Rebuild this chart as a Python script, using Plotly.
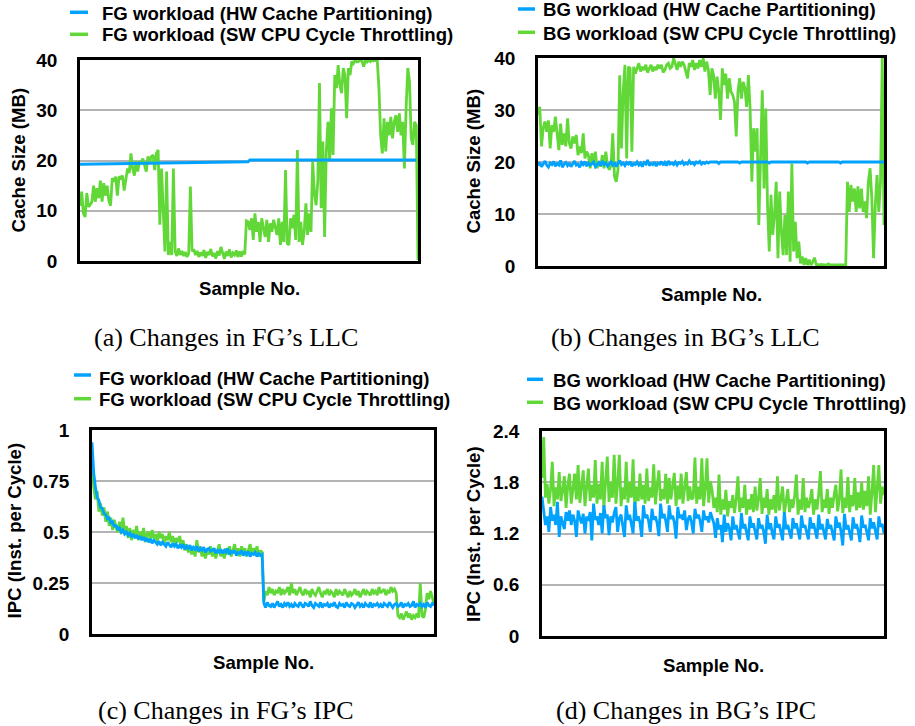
import plotly.graph_objects as go

# ---------------- data ----------------
y_ticks_llc = [0, 10, 20, 30, 40]
y_ticks_llc_text = ["0", "10", "20", "30", "40"]
y_ticks_fg_ipc = [0, 0.25, 0.5, 0.75, 1]
y_ticks_fg_ipc_text = ["0", "0.25", "0.5", "0.75", "1"]
y_ticks_bg_ipc = [0, 0.6, 1.2, 1.8, 2.4]
y_ticks_bg_ipc_text = ["0", "0.6", "1.2", "1.8", "2.4"]

# (a) FG LLC
fg_llc_hw_x = [0, 50, 99, 100, 198]
fg_llc_hw = [19.25, 19.5, 19.75, 20.1, 20.1]
fg_llc_sw = [
    11.0, 13.8, 9.5, 8.8, 13.5, 10.8, 11.2, 11.8, 15.0, 11.8,
    14.5, 12.5, 16.0, 11.8, 15.5, 13.0, 15.0, 12.0, 11.0, 16.5,
    15.8, 16.8, 13.0, 16.8, 16.5, 17.0, 14.0, 16.0, 18.4, 17.5,
    21.4, 18.4, 17.0, 19.8, 17.8, 19.8, 19.4, 20.4, 18.8, 17.8,
    20.8, 19.8, 20.8, 21.1, 18.1, 21.4, 22.1, 7.2, 18.4, 8.5,
    1.9, 17.8, 1.2, 3.8, 1.2, 18.4, 1.9, 1.0, 2.5, 1.2,
    2.0, 1.0, 1.8, 0.8, 1.5, 14.8, 1.9, 2.3, 1.2, 2.0,
    0.8, 1.7, 1.0, 2.2, 0.6, 1.8, 1.2, 2.4, 0.9, 1.6,
    0.5, 2.0, 1.1, 2.8, 1.3, 0.4, 1.9, 1.0, 2.3, 0.7,
    1.6, 1.2, 2.1, 0.8, 1.9, 0.9, 2.0, 1.3, 8.0, 7.8,
    6.2, 8.5, 4.2, 9.5, 5.8, 7.8, 3.8, 8.5, 6.5, 4.8,
    8.2, 3.8, 7.5, 5.8, 8.2, 6.8, 5.2, 8.5, 3.2, 7.8,
    3.8, 18.1, 3.5, 3.2, 8.5, 6.5, 9.2, 4.2, 22.1, 3.8,
    7.8, 3.2, 5.8, 11.5, 5.2, 9.5, 5.8, 19.8, 13.5, 11.1,
    15.8, 35.4, 10.5, 23.8, 4.8, 21.8, 27.7, 19.8, 30.4, 21.1,
    37.0, 34.4, 39.0, 35.0, 33.4, 38.4, 37.0, 28.4, 38.4, 37.0,
    39.7, 39.3, 40.0, 39.6, 39.7, 40.0, 39.8, 38.7, 39.9, 39.6,
    40.0, 39.7, 40.0, 39.8, 39.9, 40.0, 34.4, 25.0, 21.4, 28.4,
    21.8, 27.7, 25.0, 28.7, 24.4, 27.7, 29.0, 25.7, 29.4, 25.0,
    27.7, 18.4, 30.4, 38.4, 35.7, 24.4, 23.1, 27.7, 27.0, 0.2,
]

# (b) BG LLC
bg_llc_hw = [
    19.3, 19.9, 19.1, 19.7, 20.2, 19.4, 19.0, 19.8, 19.5, 20.1,
    19.2, 19.7, 19.4, 20.3, 19.0, 19.6, 19.9, 19.3, 19.8, 19.1,
    19.7, 20.2, 19.4, 19.6, 19.0, 19.9, 19.5, 20.1, 19.2, 19.8,
    19.4, 19.7, 20.0, 19.1, 19.6, 19.9, 19.3, 20.2, 19.5, 19.8,
    19.2, 19.7, 20.0, 19.4, 19.9, 19.1, 19.6, 20.3, 19.5, 19.8,
    19.3, 19.9, 19.6, 20.1, 19.2, 19.7, 19.5, 20.0, 19.4, 19.8,
    19.1, 19.9, 19.6, 20.4, 19.3, 19.7, 19.5, 20.0, 19.2, 19.8,
    19.6, 20.1, 19.4, 19.9, 19.3, 20.2, 19.6, 19.8, 19.5, 20.0,
    19.4, 19.9, 19.7, 20.1, 19.5, 19.8, 19.6, 20.2, 19.7, 19.9,
    19.5, 20.0, 19.8, 20.1, 19.6, 19.9, 19.7, 20.0, 19.8, 20.0,
    20.0, 20.0, 20.0, 20.0, 19.7, 20.0, 20.0, 20.0, 20.0, 20.0,
    20.0, 20.0, 20.0, 20.0, 20.0, 20.0, 19.8, 20.0, 20.0, 20.0,
    20.0, 20.0, 20.0, 20.0, 20.0, 20.0, 20.0, 20.0, 20.0, 20.0,
    20.0, 20.0, 20.0, 19.8, 20.0, 20.0, 20.0, 20.0, 20.0, 20.0,
    20.0, 20.0, 20.0, 20.0, 20.0, 20.0, 20.0, 20.0, 20.0, 20.0,
    20.0, 20.0, 20.0, 20.0, 20.0, 19.8, 20.0, 20.0, 20.0, 20.0,
    20.0, 20.0, 20.0, 20.0, 20.0, 20.0, 20.0, 20.0, 20.0, 20.0,
    20.0, 20.0, 20.0, 20.0, 19.8, 20.0, 20.0, 20.0, 20.0, 20.0,
    20.0, 20.0, 20.0, 20.0, 20.0, 20.0, 20.0, 20.0, 20.0, 20.0,
    20.0, 20.0, 20.0, 20.0, 20.0, 20.0, 20.0, 20.0, 20.0, 20.0,
]
bg_llc_sw = [
    29.0, 30.6, 23.0, 26.5, 27.8, 25.8, 28.0, 22.6, 27.1, 25.8,
    28.7, 24.9, 22.3, 27.4, 23.3, 25.5, 23.0, 28.4, 23.6, 22.6,
    24.9, 23.6, 25.2, 21.3, 23.0, 21.7, 25.5, 20.7, 22.0, 21.3,
    18.8, 21.7, 19.4, 22.0, 18.8, 20.1, 19.1, 21.3, 18.8, 22.0,
    19.4, 18.5, 19.4, 25.5, 17.2, 16.2, 18.5, 36.7, 22.6, 33.5,
    38.7, 20.7, 38.3, 38.0, 22.0, 38.3, 37.0, 38.0, 39.0, 37.4,
    38.3, 37.7, 38.7, 37.2, 38.0, 38.7, 37.4, 38.3, 37.7, 38.7,
    38.0, 38.7, 37.2, 37.7, 38.7, 39.0, 38.0, 38.3, 40.0, 38.7,
    37.7, 39.3, 38.3, 39.3, 38.7, 37.4, 36.1, 39.0, 38.3, 39.6,
    37.7, 39.0, 38.0, 39.6, 38.3, 40.0, 37.4, 39.3, 37.7, 32.9,
    38.0, 36.7, 32.2, 36.4, 33.5, 28.1, 38.0, 34.8, 37.0, 32.2,
    36.1, 33.5, 32.9, 31.6, 24.9, 33.5, 36.1, 32.2, 35.4, 34.2,
    30.6, 36.7, 30.3, 16.2, 26.5, 22.0, 26.5, 7.9, 20.7, 33.8,
    14.9, 30.3, 11.7, 2.8, 13.7, 6.0, 9.8, 16.2, 1.5, 14.3,
    6.6, 2.1, 9.8, 2.1, 14.3, 0.8, 19.7, 2.8, 8.5, 1.5,
    4.7, 0.5, 1.8, 0.2, 1.5, 0.2, 1.2, 0.2, 0.8, 1.6,
    0.3, 0.2, 0.2, 0.3, 0.2, 0.2, 0.2, 0.4, 0.2, 0.2,
    0.2, 0.3, 0.2, 0.2, 0.2, 0.2, 0.2, 0.2, 16.2, 10.4,
    15.6, 12.4, 14.9, 10.4, 15.3, 11.1, 14.9, 10.4, 12.4, 9.2,
    16.2, 18.8, 13.0, 1.5, 11.7, 17.5, 10.4, 16.2, 40.0, 7.9,
]

# (c) FG IPC
fg_ipc_hw = [
    .94, .79, .72, .67, .655, .62, .615, .59, .585, .565,
    .57, .545, .55, .525, .535, .51, .52, .50, .51, .49,
    .50, .485, .495, .475, .49, .47, .485, .465, .48, .46,
    .475, .455, .47, .45, .465, .445, .46, .45, .44, .455,
    .435, .45, .44, .43, .45, .435, .425, .445, .43, .44,
    .42, .435, .425, .44, .415, .43, .42, .435, .41, .425,
    .415, .43, .405, .42, .41, .425, .40, .415, .42, .405,
    .41, .42, .395, .41, .40, .415, .395, .41, .40, .42,
    .39, .405, .40, .41, .385, .40, .395, .41, .385, .40,
    .39, .405, .38, .395, .39, .40, .38, .395, .385, .39,
    .15, .13, .155, .14, .135, .15, .13, .145, .16, .135,
    .145, .13, .15, .14, .155, .135, .145, .13, .15, .14,
    .135, .155, .14, .13, .15, .145, .135, .16, .14, .13,
    .15, .14, .135, .155, .13, .145, .14, .15, .13, .145,
    .14, .155, .135, .13, .15, .14, .145, .13, .155, .14,
    .135, .15, .145, .13, .14, .155, .135, .145, .13, .15,
    .14, .135, .155, .13, .145, .14, .15, .135, .145, .13,
    .15, .14, .135, .155, .14, .13, .145, .15, .135, .14,
    .155, .13, .145, .14, .15, .135, .14, .16, .13, .145,
    .14, .15, .135, .145, .13, .155, .14, .135, .15, .14,
]
fg_ipc_sw = [
    .84, .72, .66, .70, .60, .64, .58, .62, .55, .60,
    .53, .57, .51, .56, .52, .50, .55, .49, .57, .50,
    .53, .47, .52, .46, .51, .48, .53, .46, .50, .47,
    .52, .45, .49, .50, .46, .51, .47, .49, .45, .50,
    .47, .49, .44, .48, .46, .50, .45, .48, .44, .47,
    .45, .48, .43, .46, .41, .44, .40, .43, .39, .42,
    .38, .46, .40, .43, .38, .42, .37, .41, .39, .43,
    .38, .42, .37, .40, .44, .38, .41, .37, .42, .39,
    .43, .38, .41, .44, .39, .42, .38, .43, .40, .42,
    .38, .41, .44, .39, .42, .40, .43, .38, .41, .40,
    .16, .21, .19, .23, .20, .22, .19, .21, .20, .23,
    .19, .22, .20, .21, .23, .19, .25, .20, .22, .19,
    .21, .23, .20, .19, .22, .20, .21, .18, .22, .20,
    .19, .21, .23, .20, .18, .21, .20, .22, .19, .21,
    .20, .18, .22, .19, .21, .20, .19, .22, .20, .18,
    .21, .19, .20, .22, .19, .21, .18, .20, .22, .19,
    .21, .20, .19, .22, .20, .21, .19, .23, .20, .21,
    .22, .19, .21, .20, .23, .21, .22, .20, .09, .08,
    .10, .07, .09, .11, .08, .10, .07, .09, .08, .10,
    .08, .25, .09, .08, .12, .20, .17, .21, .18, .15,
]

# (d) BG IPC
bg_ipc_hw = [
    1.63, 1.45, 1.30, 1.40, 1.22, 1.51, 1.35, 1.42, 1.30, 1.57,
    1.16, 1.40, 1.33, 1.25, 1.45, 1.35, 1.47, 1.30, 1.42, 1.35,
    1.16, 1.47, 1.38, 1.32, 1.43, 1.20, 1.40, 1.35, 1.45, 1.12,
    1.55, 1.36, 1.40, 1.30, 1.44, 1.20, 1.53, 1.38, 1.42, 1.18,
    1.40, 1.33, 1.44, 1.51, 1.22, 1.38, 1.42, 1.30, 1.16, 1.53,
    1.36, 1.42, 1.32, 1.20, 1.57, 1.35, 1.40, 1.33, 1.16, 1.53,
    1.38, 1.42, 1.35, 1.22, 1.49, 1.36, 1.40, 1.32, 1.17, 1.55,
    1.38, 1.43, 1.35, 1.22, 1.53, 1.37, 1.41, 1.33, 1.14, 1.51,
    1.38, 1.42, 1.36, 1.47, 1.24, 1.37, 1.41, 1.33, 1.20, 1.49,
    1.38, 1.42, 1.35, 1.22, 1.47, 1.36, 1.40, 1.33, 1.45, 1.38,
    1.32, 1.15, 1.38, 1.25, 1.30, 1.10, 1.42, 1.22, 1.32, 1.26,
    1.12, 1.40, 1.25, 1.30, 1.20, 1.13, 1.44, 1.26, 1.31, 1.22,
    1.12, 1.40, 1.27, 1.32, 1.24, 1.13, 1.38, 1.26, 1.30, 1.22,
    1.08, 1.42, 1.25, 1.32, 1.20, 1.13, 1.40, 1.27, 1.31, 1.22,
    1.12, 1.45, 1.25, 1.30, 1.23, 1.14, 1.38, 1.26, 1.32, 1.21,
    1.13, 1.41, 1.27, 1.30, 1.22, 1.13, 1.39, 1.26, 1.32, 1.24,
    1.14, 1.42, 1.25, 1.31, 1.20, 1.13, 1.37, 1.26, 1.30, 1.22,
    1.12, 1.40, 1.27, 1.33, 1.22, 1.06, 1.43, 1.25, 1.30, 1.21,
    1.12, 1.39, 1.26, 1.31, 1.23, 1.10, 1.41, 1.27, 1.30, 1.22,
    1.12, 1.38, 1.26, 1.33, 1.24, 1.13, 1.40, 1.28, 1.31, 1.20,
]
bg_ipc_sw = [
    1.85, 2.33, 1.62, 1.78, 1.55, 1.72, 2.04, 1.52, 1.74, 1.60,
    1.92, 1.58, 1.70, 1.87, 1.50, 1.76, 1.90, 1.55, 1.72, 1.90,
    1.60, 2.00, 1.56, 1.75, 1.94, 1.52, 1.73, 1.96, 1.58, 1.77,
    1.62, 2.06, 1.55, 1.78, 1.60, 2.04, 1.50, 1.76, 2.10, 1.57,
    1.80, 1.62, 2.12, 1.55, 1.78, 2.12, 1.52, 1.74, 1.60, 2.04,
    1.56, 1.80, 1.62, 2.07, 1.50, 1.75, 1.58, 1.90, 1.60, 1.77,
    1.55, 1.96, 1.58, 1.74, 1.62, 2.01, 1.54, 1.76, 1.94, 1.58,
    1.72, 1.60, 1.90, 1.55, 1.85, 1.60, 1.74, 1.91, 1.52, 1.76,
    1.60, 1.90, 1.55, 1.72, 1.92, 1.58, 1.75, 1.60, 1.62, 2.09,
    1.55, 1.75, 1.60, 2.08, 1.52, 1.72, 2.08, 1.56, 1.81, 1.70,
    1.50, 1.62, 1.45, 1.89, 1.42, 1.60, 1.48, 1.71, 1.40, 1.58,
    1.50, 1.65, 1.44, 1.60, 1.87, 1.45, 1.62, 1.50, 1.77, 1.42,
    1.60, 1.48, 1.66, 1.45, 1.75, 1.47, 1.60, 1.85, 1.43, 1.62,
    1.50, 1.72, 1.42, 1.60, 1.48, 1.65, 1.44, 1.87, 1.47, 1.60,
    1.75, 1.43, 1.58, 1.72, 1.45, 1.60, 1.50, 1.64, 1.89, 1.42,
    1.60, 1.48, 1.85, 1.45, 1.62, 1.50, 1.58, 1.72, 1.42, 1.60,
    1.48, 1.66, 1.93, 1.45, 1.60, 1.50, 1.72, 1.43, 1.62, 1.50,
    1.65, 1.77, 1.46, 1.60, 1.95, 1.44, 1.62, 1.50, 1.86, 1.45,
    1.65, 1.52, 1.85, 1.47, 1.68, 1.50, 1.80, 1.48, 1.70, 1.52,
    1.87, 1.42, 1.68, 2.00, 1.45, 1.70, 2.00, 1.55, 1.75, 1.65,
]

legend_a = ["FG workload (HW Cache Partitioning)", "FG workload (SW CPU Cycle Throttling)"]
legend_b = ["BG workload (HW Cache Partitioning)", "BG workload (SW CPU Cycle Throttling)"]
captions = ["(a) Changes in FG\u2019s LLC", "(b) Changes in BG\u2019s LLC",
            "(c) Changes in FG\u2019s IPC", "(d) Changes in BG\u2019s IPC"]
y_titles = ["Cache Size (MB)", "Cache Size (MB)", "IPC (Inst. per Cycle)", "IPC (Inst. per Cycle)"]
x_title = "Sample No."

# ---------------- styling ----------------
W, H = 915, 726
BLUE = "#00a2ff"
GREEN = "#62d838"
GRID = "#b4b4b4"
BOLD = dict(family="Liberation Sans, Arial, sans-serif", size=18.6, color="black", weight="bold")
TICK = dict(family="Liberation Sans, Arial, sans-serif", size=19, color="black", weight="bold")
SERIF = dict(family="Liberation Serif, Times New Roman, serif", size=26, color="black")


def fx(p):
    return p / W


def fy(p):
    return 1 - p / H


# pixel boxes (left, right, top, bottom)
boxes = [(80, 418, 60, 261), (538, 884, 58, 266), (92, 434, 430, 634), (542, 884, 431, 636)]
yranges = [40, 40, 1, 2.4]
ytv = [(y_ticks_llc, y_ticks_llc_text), (y_ticks_llc, y_ticks_llc_text),
       (y_ticks_fg_ipc, y_ticks_fg_ipc_text), (y_ticks_bg_ipc, y_ticks_bg_ipc_text)]

series = [
    (list(range(len(fg_llc_sw))), fg_llc_sw, fg_llc_hw_x, fg_llc_hw),
    (list(range(len(bg_llc_sw))), bg_llc_sw, list(range(len(bg_llc_hw))), bg_llc_hw),
    (list(range(len(fg_ipc_sw))), fg_ipc_sw, list(range(len(fg_ipc_hw))), fg_ipc_hw),
    (list(range(len(bg_ipc_sw))), bg_ipc_sw, list(range(len(bg_ipc_hw))), bg_ipc_hw),
]

fig = go.Figure()
layout = {}
for k in range(4):
    sfx = "" if k == 0 else str(k + 1)
    xs, sw, xh, hw = series[k]
    fig.add_trace(go.Scatter(x=xs, y=sw, mode="lines", line=dict(color=GREEN, width=2.8),
                             xaxis="x" + sfx, yaxis="y" + sfx, showlegend=False, hoverinfo="skip"))
    fig.add_trace(go.Scatter(x=xh, y=hw, mode="lines", line=dict(color=BLUE, width=2.8),
                             xaxis="x" + sfx, yaxis="y" + sfx, showlegend=False, hoverinfo="skip"))
    l, r, t, b = boxes[k]
    layout["xaxis" + sfx] = dict(domain=[fx(l), fx(r)], range=[0, 199], anchor="y" + sfx,
                                 showline=True, mirror=True, linecolor="black", linewidth=2.5,
                                 showticklabels=False, showgrid=False, zeroline=False, ticks="",
                                 automargin=False)
    layout["yaxis" + sfx] = dict(domain=[fy(b), fy(t)], range=[0, yranges[k]], anchor="x" + sfx,
                                 tickvals=ytv[k][0], ticktext=ytv[k][1],
                                 showgrid=True, gridcolor=GRID, gridwidth=2,
                                 showline=True, mirror=True, linecolor="black", linewidth=2.5,
                                 zeroline=False, ticks="outside", ticklen=16,
                                 tickcolor="rgba(0,0,0,0)", tickfont=TICK, automargin=False)

annotations = []
shapes = []


def add_text(text, x, y, font, xanchor="center", angle=0):
    annotations.append(dict(text=text, x=fx(x), y=fy(y), xref="paper", yref="paper",
                            xanchor=xanchor, yanchor="middle", showarrow=False,
                            font=font, textangle=angle))


def add_leg(x0, x1, y, color):
    shapes.append(dict(type="line", xref="paper", yref="paper", x0=fx(x0), x1=fx(x1),
                       y0=fy(y), y1=fy(y), line=dict(color=color, width=3.5)))


# legends
leg_specs = [
    (legend_a, 70, 88, 100, (12.3, 34.3), (13, 34.5)),
    (legend_b, 518, 535, 541, (9, 32.3), (9.5, 33.3)),
    (legend_a, 74, 91, 97, (375, 398.7), (378, 399.7)),
    (legend_b, 527, 543, 551, (379.3, 402.3), (380.7, 403)),
]
for labels, lx0, lx1, tx, ly, ty in leg_specs:
    add_leg(lx0, lx1, ly[0], BLUE)
    add_leg(lx0, lx1, ly[1], GREEN)
    add_text(labels[0], tx, ty[0], BOLD, xanchor="left")
    add_text(labels[1], tx, ty[1], BOLD, xanchor="left")

# axis titles
ytitle_pos = [(17.5, 160), (473.5, 161), (13.5, 531), (473, 534)]
for k, (x, y) in enumerate(ytitle_pos):
    add_text(y_titles[k], x, y, BOLD, angle=-90)
xtitle_pos = [(249, 288), (711, 295), (263, 662), (713, 665)]
for x, y in xtitle_pos:
    add_text(x_title, x, y, BOLD)

# captions
cap_pos = [(226, 338), (685, 338), (226, 710), (686, 710)]
for k, (x, y) in enumerate(cap_pos):
    add_text(captions[k], x, y, SERIF)

fig.update_layout(width=W, height=H, autosize=False,
                  margin=dict(l=0, r=0, t=0, b=0, autoexpand=False),
                  paper_bgcolor="white", plot_bgcolor="white",
                  showlegend=False, annotations=annotations, shapes=shapes, **layout)

fig.write_html("out.html")
